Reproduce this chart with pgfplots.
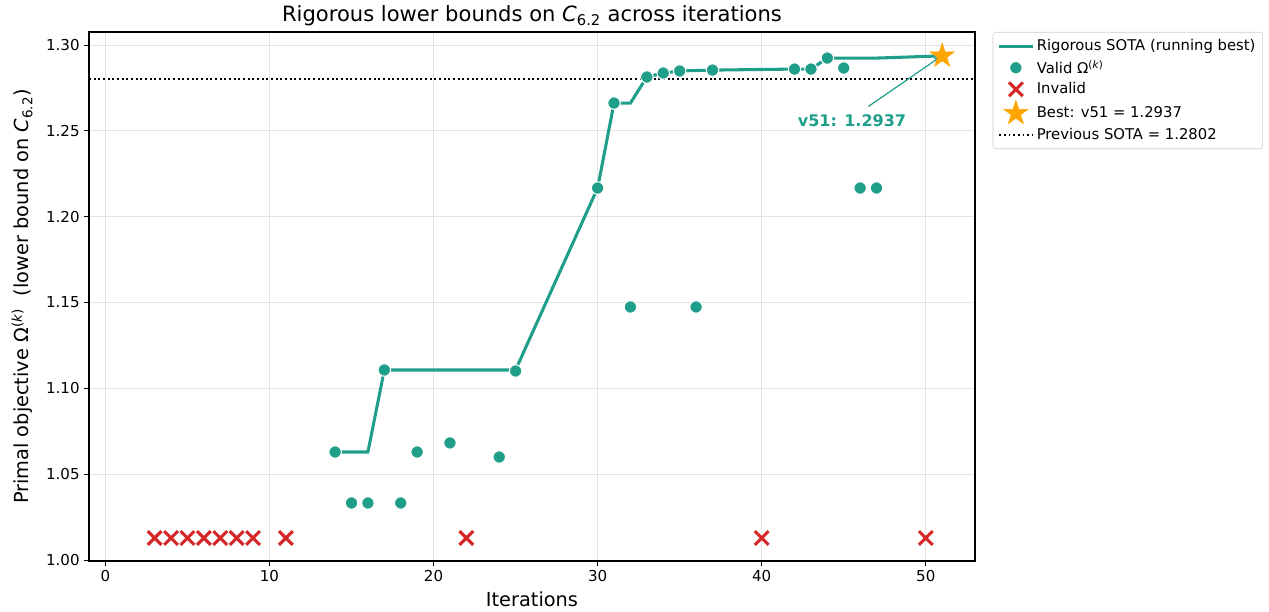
\documentclass[border=0pt]{standalone}
\usepackage{fontspec}
\setmainfont{DejaVu Sans}
\usepackage{pgfplots}
\pgfplotsset{compat=1.18}
\pgfplotsset{legend image code/.code={\draw[mark repeat=2, mark phase=2, #1] plot coordinates {(0cm,0cm) (0.44cm,0cm) (0.88cm,0cm)};}}
\definecolor{tealc}{HTML}{1F9E89}
\definecolor{redc}{HTML}{D62728}
\definecolor{orangec}{HTML}{FFA500}
\pgfdeclareplotmark{fstar}{%
  \pgfpathmoveto{\pgfpointpolar{90}{\pgfplotmarksize}}%
  \pgfpathlineto{\pgfpointpolar{126}{0.382\pgfplotmarksize}}%
  \pgfpathlineto{\pgfpointpolar{162}{\pgfplotmarksize}}%
  \pgfpathlineto{\pgfpointpolar{198}{0.382\pgfplotmarksize}}%
  \pgfpathlineto{\pgfpointpolar{234}{\pgfplotmarksize}}%
  \pgfpathlineto{\pgfpointpolar{270}{0.382\pgfplotmarksize}}%
  \pgfpathlineto{\pgfpointpolar{306}{\pgfplotmarksize}}%
  \pgfpathlineto{\pgfpointpolar{342}{0.382\pgfplotmarksize}}%
  \pgfpathlineto{\pgfpointpolar{18}{\pgfplotmarksize}}%
  \pgfpathlineto{\pgfpointpolar{54}{0.382\pgfplotmarksize}}%
  \pgfpathclose
  \pgfusepathqfillstroke}
\begin{document}
\begin{tikzpicture}
\useasboundingbox (-66.75pt,-37.5pt) rectangle (885pt,420.75pt);
\begin{axis}[
  at={(0,0)}, anchor=south west,
  scale only axis=true,
  width=664.5pt, height=396.75pt,
  xmin=-1, xmax=53, ymin=0.9994, ymax=1.3076,
  xtick={0,10,20,30,40,50},
  ytick={1.00,1.05,1.10,1.15,1.20,1.25,1.30},
  yticklabel style={/pgf/number format/.cd, fixed, fixed zerofill, precision=2},
  /pgf/number format/assume math mode=true,
  tick label style={font=\fontsize{11.3}{13}\selectfont},
  tick align=outside, tick pos=left,
  major tick length=3.5pt,
  every tick/.style={black, line width=0.6pt},
  axis line style={black, line width=0.8pt},
  grid=major,
  major grid style={gray!22, line width=0.6pt},
  title={Rigorous lower bounds on \textit{C}\textsubscript{6.2} across iterations},
  title style={font=\fontsize{15.8}{18}\selectfont, yshift=-5pt},
  xlabel={Iterations},
  ylabel={Primal objective Ω\textsuperscript{(\textit{k})}\ \ (lower bound on \textit{C}\textsubscript{6.2})},
  label style={font=\fontsize{14.5}{17}\selectfont},
  xlabel style={yshift=-1pt},
  ylabel style={yshift=3pt},
  legend style={at={(1.02,1)}, anchor=north west, draw=gray!40, rounded corners=2pt,
    font=\fontsize{11.1}{13}\selectfont, row sep=1.5pt, inner sep=3.5pt},
  legend cell align=left,
]
\addplot[tealc, line width=2.3pt, no marks] coordinates {
(14,1.0629) (16,1.0629) (17,1.1107) (25,1.1107) (30,1.2167) (31,1.2662) (32,1.2662)
(33,1.2814) (34,1.2837) (35,1.2849) (37,1.2854) (42,1.2860) (43,1.2860) (44,1.2924)
(47,1.2924) (51,1.2937)};
\addlegendentry{Rigorous SOTA (running best)}
\addplot[only marks, mark=*, mark size=4.7pt, mark options={fill=tealc, draw=white, line width=0.8pt}] coordinates {
(14,1.0629) (15,1.0332) (16,1.0332) (17,1.1107) (18,1.0332) (19,1.0629) (21,1.0682)
(24,1.0600) (25,1.1101) (30,1.2167) (31,1.2662) (32,1.1474) (33,1.2814) (34,1.2837)
(35,1.2849) (36,1.1474) (37,1.2854) (42,1.2860) (43,1.2860) (44,1.2924) (45,1.2866)
(46,1.2167) (47,1.2167)};
\addlegendentry{Valid Ω\textsuperscript{(\textit{k})}}
\addplot[only marks, mark=x, mark size=7.3pt, mark options={draw=redc, line width=2.3pt}] coordinates {
(3,1.0128) (4,1.0128) (5,1.0128) (6,1.0128) (7,1.0128) (8,1.0128) (9,1.0128)
(11,1.0128) (22,1.0128) (40,1.0128) (50,1.0128)};
\addlegendentry{Invalid}
\addplot[only marks, mark=fstar, mark size=9.5pt, mark options={fill=orangec, draw=orangec, line width=0.5pt}] coordinates {(51,1.2937)};
\addlegendentry{Best: v51 = 1.2937}
\addplot[black, line width=1.5pt, dash pattern=on 1.4pt off 2.1pt, no marks] coordinates {(-1,1.2802) (53,1.2802)};
\addlegendentry{Previous SOTA = 1.2802}
\draw[->, tealc, line width=0.9pt] (axis cs:46.5,1.2642) -- (axis cs:50.75,1.2922);
\node[text=tealc, font=\bfseries\fontsize{12}{14}\selectfont] at (axis cs:45.5,1.2562) {v51: 1.2937};
\end{axis}
\end{tikzpicture}
\end{document}
